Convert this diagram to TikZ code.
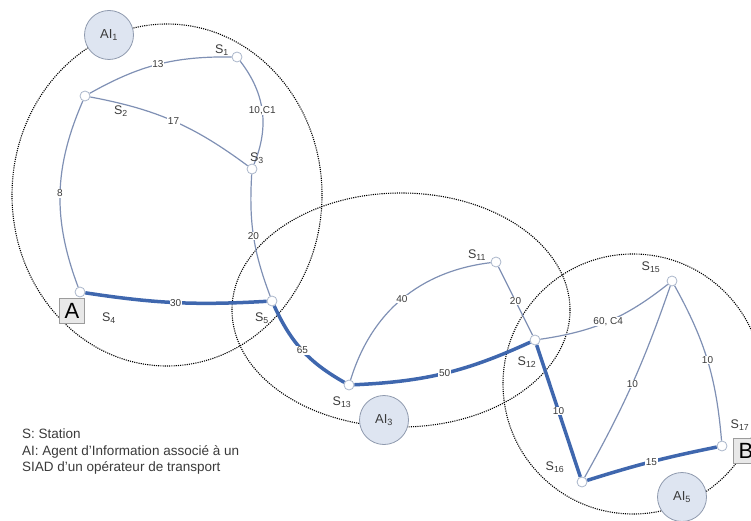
\documentclass[tikz,border=0pt]{standalone}
\usepackage{fontspec}
\setmainfont{Liberation Sans}
\usetikzlibrary{calc}
\definecolor{cEdge}{HTML}{7F90B4}
\definecolor{cPath}{HTML}{3F67AE}
\definecolor{cRing}{HTML}{AAB6CA}
\definecolor{cAgentF}{HTML}{DEE5F1}
\definecolor{cAgentD}{HTML}{8F9AAE}
\definecolor{cBoxF}{HTML}{E8E8E8}
\definecolor{cBoxD}{HTML}{9C9C9C}
\definecolor{cText}{HTML}{3A3A3A}
\tikzset{
  station/.style = {circle, draw=cRing, fill=white, line width=0.8pt,
                    minimum size=10pt, inner sep=0pt},
  agent/.style   = {circle, draw=cAgentD, fill=cAgentF, line width=0.8pt,
                    minimum size=49pt, inner sep=0pt, text=cText,
                    font=\fontsize{13}{15}\selectfont},
  endbox/.style  = {draw=cBoxD, fill=cBoxF, line width=0.8pt, minimum size=25pt,
                    inner sep=0pt, font=\fontsize{22}{24}\selectfont},
  slbl/.style    = {inner sep=0pt, text=cText, font=\fontsize{12.5}{14}\selectfont},
  elbl/.style    = {fill=white, inner sep=0.6pt, text=cText,
                    font=\fontsize{10}{11}\selectfont},
  link/.style    = {cEdge, line width=1.2pt},
  route/.style   = {cPath, line width=3.5pt},
  zone/.style    = {black, line width=1.1pt, dash pattern=on 1.1pt off 1.1pt},
  legend/.style  = {align=left, inner sep=0pt, text=cText,
                    font=\fontsize{13.5}{16.5}\selectfont},
}
\begin{document}
\begin{tikzpicture}[x=1pt,y=-1pt]
  \useasboundingbox (0,0) rectangle (751,521);
  % zones of the agents
  \draw[zone] (167,195) ellipse [x radius=155, y radius=171];
  \draw[zone] (401,310) ellipse [x radius=169, y radius=117];
  \draw[zone] (633,384) circle [radius=130];
  \node[agent] (ai1) at (109,35) {AI\textsubscript{1}};
  \node[agent] (ai3) at (384,420) {AI\textsubscript{3}};
  \node[agent] (ai5) at (682,497) {AI\textsubscript{5}};
  % stations
  \node[station] (s1) at (237,57) {};
  \node[station] (s2) at (85,96) {};
  \node[station] (s3) at (252,169) {};
  \node[station] (s4) at (80,292) {};
  \node[station] (s5) at (272,301) {};
  \node[station] (s13) at (349,385) {};
  \node[station] (s11) at (496,262) {};
  \node[station] (s12) at (535,340) {};
  \node[station] (s15) at (672,281) {};
  \node[station] (s16) at (582,482) {};
  \node[station] (s17) at (722,446) {};
  \node[endbox] (a) at (72,311) {A};
  \node[endbox] (b) at (746,451) {B};
  % links
  \draw[link]  (s2) to[bend left=15]  node[elbl] {13} (s1);
  \draw[link]  (s1) to[bend left=30]  node[elbl] {10,C1} (s3);
  \draw[link]  (s2) to[bend left=13]  node[elbl] {17} (s3);
  \draw[link]  (s2) to[bend right=22] node[elbl] {8} (s4);
  \draw[link]  (s3) to[bend right=12] node[elbl] {20} (s5);
  \draw[route] (s4) to[bend right=6]  node[elbl] {30} (s5);
  \draw[route] (s5) to[bend right=18] node[elbl] {65} (s13);
  \draw[link]  (s13) to[bend left=33] node[elbl] {40} (s11);
  \draw[link]  (s11) -- node[elbl] {20} (s12);
  \draw[route] (s13) to[bend right=11] node[elbl] {50} (s12);
  \draw[link]  (s12) to[bend right=15] node[elbl] {60, C4} (s15);
  \draw[route] (s12) -- node[elbl] {10} (s16);
  \draw[link]  (s16) to[bend right=5] node[elbl] {10} (s15);
  \draw[link]  (s15) to[bend left=12] node[elbl] {10} (s17);
  \draw[route] (s16) to[bend left=3] node[elbl] {15} (s17);
  % station names
  \node[slbl] (n1) at (222,50) {S\textsubscript{1}};
  \node[slbl] (n2) at (121,111) {S\textsubscript{2}};
  \node[slbl] (n3) at (257,158) {S\textsubscript{3}};
  \node[slbl] (n4) at (109,318) {S\textsubscript{4}};
  \node[slbl] (n5) at (262,318) {S\textsubscript{5}};
  \node[slbl] (n13) at (342,402) {S\textsubscript{13}};
  \node[slbl] (n11) at (477,255) {S\textsubscript{11}};
  \node[slbl] (n12) at (527,362) {S\textsubscript{12}};
  \node[slbl] (n15) at (651,267) {S\textsubscript{15}};
  \node[slbl] (n16) at (555,467) {S\textsubscript{16}};
  \node[slbl] (n17) at (740,425) {S\textsubscript{17}};
  \node[legend, anchor=north west] (key) at (22,429)
    {S: Station\\AI: Agent d'Information associé à un\\SIAD d'un opérateur de transport};
\end{tikzpicture}
\end{document}
